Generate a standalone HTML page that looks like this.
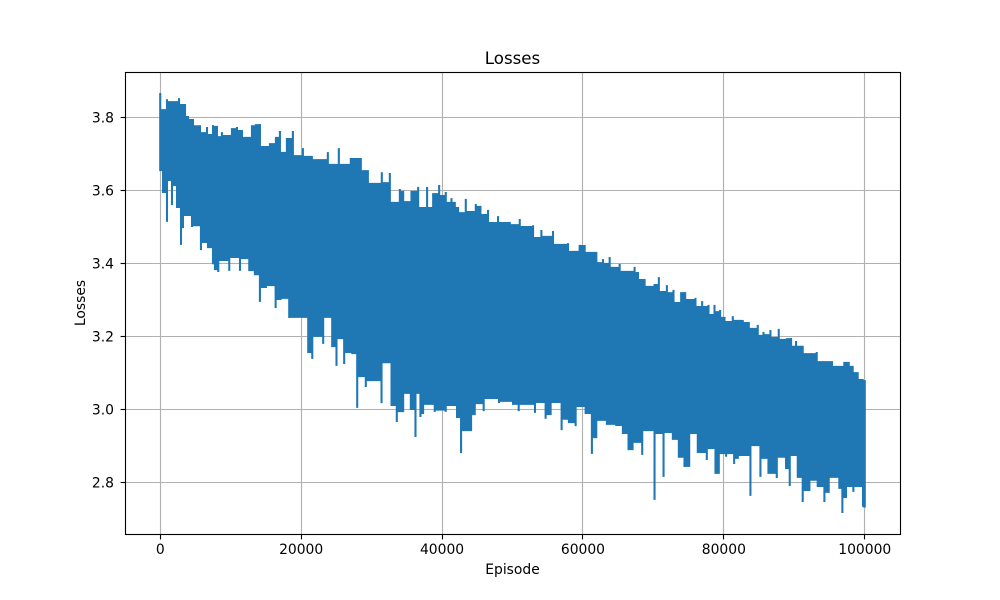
<!DOCTYPE html>
<html lang="en">
<head>
<meta charset="utf-8">
<title>Losses</title>
<style>
html,body{margin:0;padding:0;background:#fff;}
svg{display:block;font-family:"DejaVu Sans","Liberation Sans",sans-serif;}
</style>
</head>
<body>
<svg id="chart" width="1000" height="600" viewBox="0 0 1000 600" xmlns="http://www.w3.org/2000/svg">
<rect x="0" y="0" width="1000" height="600" fill="#ffffff"/>
<rect x="125" y="72" width="775" height="462" fill="#ffffff"/>
<g id="grid"></g>
<path id="series" fill="#1f77b4" stroke="#1f77b4" stroke-width="2.08" stroke-linejoin="miter" stroke-miterlimit="3"/>
<rect x="125.5" y="72.5" width="775" height="462" fill="none" stroke="#000" stroke-width="1.11"/>
<g id="ticks"></g>
<text x="512.5" y="64" text-anchor="middle" font-size="16.67" fill="#000">Losses</text>
<text x="512.5" y="574" text-anchor="middle" font-size="13.89" fill="#000">Episode</text>
<text x="85" y="303" text-anchor="middle" font-size="13.89" fill="#000" transform="rotate(-90 85 303)">Losses</text>
</svg>
<script>
const xTickValues = [0, 20000, 40000, 60000, 80000, 100000];
const yTickValues = [2.8, 3.0, 3.2, 3.4, 3.6, 3.8];
const yTickLabels = ["2.8", "3.0", "3.2", "3.4", "3.6", "3.8"];

const peakEpisodes = [0,250,680,960,1390,2380,2670,3090,3520,3940,4650,5640,6070,6640,7060,7490,8050,8480,8760,9190,10180,10890,11600,12310,13020,13580,14150,14720,15570,16420,16990,17410,17980,18830,19540,20250,21520,22660,23790,24500,25350,26200,27050,27620,28470,29470,30180,31450,32300,32590,33300,34010,34480,34950,35660,36610,37080,37880,38260,38740,39590,40060,40530,40860,41340,41810,42280,42750,43370,43940,44790,45450,46060,46530,47010,47950,48900,49610,50320,51030,51970,52920,53630,54100,54810,55750,56460,57880,58820,59530,60240,60950,61900,62370,62840,63320,63790,64500,65210,66390,67330,67810,68750,69700,70160,70770,71340,71910,72380,72850,73470,73940,74510,75120,75970,76450,76920,77390,77820,78200,78670,79140,79470,80090,80650,81270,81980,82690,83540,83870,84810,85290,85620,86090,86610,87030,87790,88360,88970,89540,90010,90250,91190,92380,93180,94030,95350,96630,97100,97720,98280,98990,99700,100000];
const peakLosses = [3.867,3.820,3.820,3.850,3.842,3.842,3.853,3.834,3.837,3.801,3.793,3.776,3.757,3.774,3.752,3.779,3.774,3.746,3.760,3.749,3.768,3.774,3.763,3.744,3.776,3.779,3.782,3.719,3.727,3.744,3.763,3.703,3.741,3.763,3.694,3.716,3.692,3.683,3.705,3.670,3.716,3.670,3.689,3.686,3.689,3.653,3.618,3.650,3.620,3.648,3.566,3.604,3.596,3.568,3.596,3.610,3.552,3.610,3.552,3.590,3.615,3.585,3.596,3.566,3.579,3.566,3.552,3.538,3.577,3.541,3.563,3.555,3.533,3.547,3.511,3.530,3.511,3.514,3.505,3.522,3.500,3.505,3.470,3.492,3.473,3.489,3.451,3.456,3.432,3.451,3.448,3.429,3.432,3.401,3.412,3.399,3.418,3.388,3.399,3.377,3.391,3.374,3.355,3.336,3.341,3.363,3.322,3.341,3.319,3.328,3.292,3.319,3.319,3.300,3.306,3.281,3.297,3.281,3.287,3.259,3.287,3.267,3.273,3.251,3.240,3.256,3.243,3.245,3.237,3.221,3.232,3.202,3.213,3.204,3.218,3.196,3.221,3.191,3.193,3.196,3.172,3.188,3.172,3.152,3.158,3.130,3.133,3.117,3.128,3.128,3.117,3.100,3.081,3.078];

const troughEpisodes = [0,400,960,1390,1670,2100,2380,2950,3230,3800,4510,5360,5780,6350,6780,7490,7770,8240,8950,9800,10610,11320,12030,12640,13440,14150,15000,15570,16380,17080,17700,18310,19260,20200,21010,21580,22190,23130,23750,24410,25020,25500,26110,26540,27250,27960,28570,29180,30220,31410,32020,32830,33580,34480,35190,35570,36230,36750,36930,37310,38020,38960,39910,40520,41330,42130,42700,43360,44120,44640,45340,45910,46860,48090,48890,50070,50880,51960,53190,54090,54700,55410,56220,56970,57400,58010,58960,59530,60380,61270,61890,62360,63400,64730,65670,66470,67040,67470,68410,69220,70160,70780,71440,72050,72760,73610,74410,75080,75600,76300,77580,78200,78810,79280,79610,80320,81030,81460,81980,82920,83770,84480,85190,85760,86330,86940,87510,88120,88830,89350,90010,90490,91190,92140,92850,93320,94270,94880,95450,96390,96820,97340,98050,98380,99000,99750,100000];
const troughLosses = [3.656,3.596,3.514,3.629,3.560,3.615,3.555,3.451,3.500,3.533,3.500,3.505,3.437,3.459,3.445,3.401,3.385,3.377,3.410,3.380,3.418,3.380,3.415,3.382,3.371,3.295,3.336,3.341,3.278,3.303,3.306,3.251,3.254,3.254,3.158,3.139,3.202,3.180,3.254,3.174,3.120,3.196,3.125,3.158,3.155,3.005,3.092,3.062,3.081,3.018,3.130,3.013,2.966,2.996,3.046,3.002,2.925,3.046,2.980,2.991,3.016,2.994,3.000,2.994,3.013,2.980,2.881,2.944,2.944,2.988,3.018,2.996,3.032,3.018,3.024,3.016,2.996,3.016,2.991,3.021,2.975,2.988,3.021,2.944,2.975,2.966,2.955,3.010,2.991,2.879,2.925,2.972,2.961,2.958,2.936,2.892,2.892,2.912,2.876,2.944,2.753,2.936,2.816,2.939,2.920,2.871,2.843,2.846,2.936,2.884,2.862,2.895,2.824,2.827,2.881,2.871,2.881,2.851,2.868,2.876,2.764,2.903,2.816,2.868,2.827,2.827,2.813,2.871,2.840,2.791,2.876,2.816,2.747,2.780,2.808,2.791,2.747,2.775,2.816,2.786,2.717,2.761,2.791,2.775,2.791,2.734,2.735];

const SVG_NS = "http://www.w3.org/2000/svg";
const plotLeft = 125, plotRight = 900, plotTop = 72, plotBottom = 534;
const xDomainMin = -5000, xDomainMax = 105000;
const yDomainMin = 2.6595, yDomainMax = 3.9245;

function xScale(v) {
  return plotLeft + (v - xDomainMin) / (xDomainMax - xDomainMin) * (plotRight - plotLeft);
}
function yScale(v) {
  return plotBottom - (v - yDomainMin) / (yDomainMax - yDomainMin) * (plotBottom - plotTop);
}
function snap(p) {
  return Math.floor(p) + 0.5;
}
function makeLine(x1, y1, x2, y2, color) {
  const line = document.createElementNS(SVG_NS, "line");
  line.setAttribute("x1", x1);
  line.setAttribute("y1", y1);
  line.setAttribute("x2", x2);
  line.setAttribute("y2", y2);
  line.setAttribute("stroke", color);
  line.setAttribute("stroke-width", "1.11");
  return line;
}
function makeLabel(x, y, anchor, content) {
  const t = document.createElementNS(SVG_NS, "text");
  t.setAttribute("x", x);
  t.setAttribute("y", y);
  t.setAttribute("text-anchor", anchor);
  t.setAttribute("font-size", "13.89");
  t.setAttribute("fill", "#000");
  t.textContent = content;
  return t;
}

const gridGroup = document.getElementById("grid");
const tickGroup = document.getElementById("ticks");

xTickValues.forEach(function (v) {
  const px = snap(xScale(v));
  const gridLine = makeLine(px, plotTop, px, plotBottom, "#b0b0b0");
  
  
  gridGroup.appendChild(gridLine);
  const tick = makeLine(px, plotBottom, px, plotBottom + 5.4, "#000");
  
  
  tickGroup.appendChild(tick);
  const label = makeLabel(xScale(v), 554, "middle", String(v));
  
  
  tickGroup.appendChild(label);
});

yTickValues.forEach(function (v, i) {
  const py = snap(yScale(v));
  const gridLine = makeLine(plotLeft, py, plotRight, py, "#b0b0b0");
  
  
  gridGroup.appendChild(gridLine);
  const tick = makeLine(plotLeft - 4.4, py, plotLeft, py, "#000");
  
  
  tickGroup.appendChild(tick);
  const label = makeLabel(plotLeft - 11, yScale(v) + 5, "end", yTickLabels[i]);
  
  
  tickGroup.appendChild(label);
});

// Each reading is a vertical spike; the span between two readings sits at the less extreme value.
function appendSpikes(parts, episodes, losses, inner) {
  for (let i = 0; i < episodes.length; i++) {
    parts.push("L" + xScale(episodes[i]).toFixed(2) + " " + yScale(losses[i]).toFixed(2));
    if (i + 1 < episodes.length) {
      const level = yScale(inner(losses[i], losses[i + 1])).toFixed(2);
      parts.push("L" + xScale(episodes[i]).toFixed(2) + " " + level);
      parts.push("L" + xScale(episodes[i + 1]).toFixed(2) + " " + level);
    }
  }
}

const pathParts = [];
appendSpikes(pathParts, peakEpisodes, peakLosses, Math.min);
appendSpikes(pathParts, troughEpisodes.slice().reverse(), troughLosses.slice().reverse(), Math.max);
pathParts[0] = "M" + pathParts[0].slice(1);
pathParts.push("Z");
document.getElementById("series").setAttribute("d", pathParts.join(" "));
</script>
</body>
</html>
